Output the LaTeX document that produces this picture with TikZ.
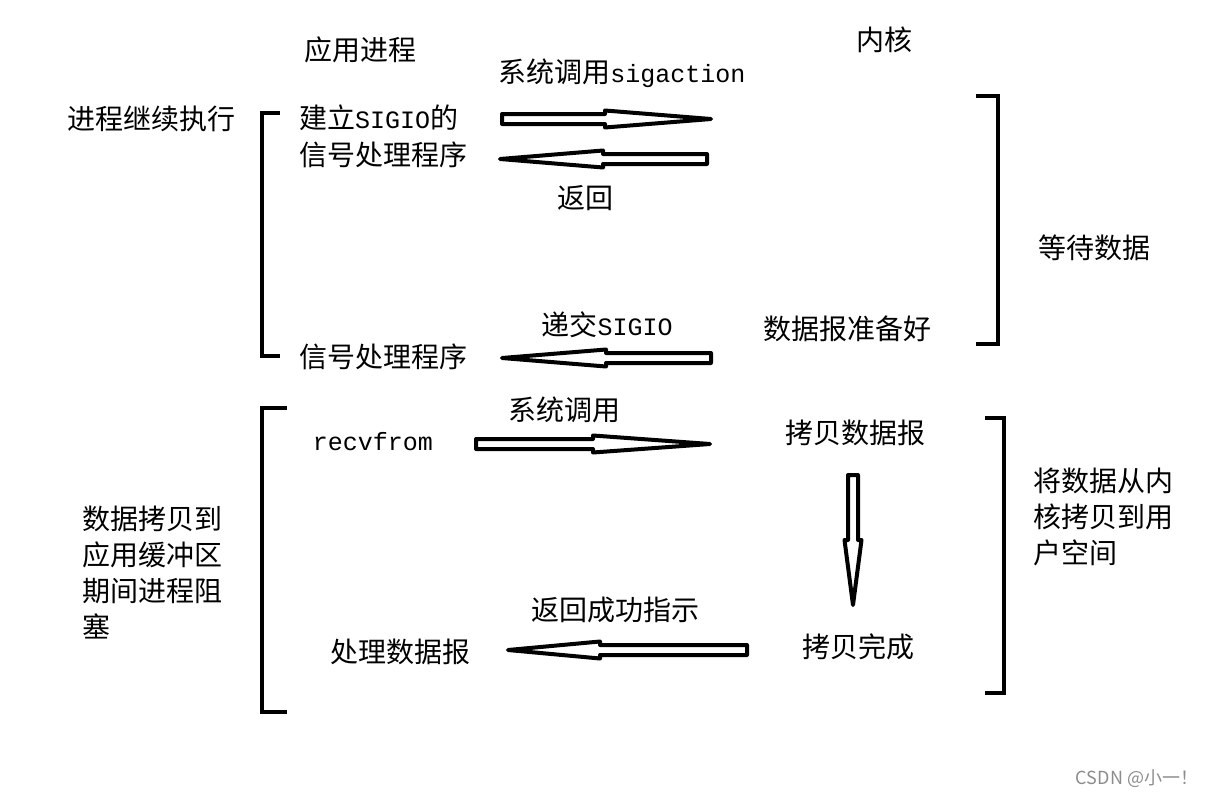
\documentclass[tikz,border=0pt]{standalone}
\usepackage{fontspec}
\setmainfont{Noto Sans CJK SC}
\setmonofont{Liberation Mono}
\usetikzlibrary{calc}

\newcommand{\lat}[1]{{\fontsize{25}{36}\selectfont\ttfamily #1}}
% hollow arrow: start, tip, head length
\newcommand{\hollowarrow}[3]{%
  \coordinate (hb) at ($(#2)!#3!(#1)$);
  \draw[harrow] ($(#1)!5pt!90:(#2)$) -- ($(hb)!5pt!90:(#2)$)
    -- ($(hb)!8.5pt!90:(#2)$) -- (#2) -- ($(hb)!8.5pt!-90:(#2)$)
    -- ($(hb)!5pt!-90:(#2)$) -- ($(#1)!5pt!-90:(#2)$) -- cycle;}

\begin{document}
\begin{tikzpicture}[x=1pt,y=-1pt]

% ---------- styles ----------
\tikzset{
  txt/.style={font=\fontsize{28}{36}\selectfont, inner sep=0pt},
  harrow/.style={line width=4pt, line join=round, fill=white},
  brk/.style={line width=4pt}
}

\useasboundingbox (0,0) rectangle (1213,798);

% ---------- headings ----------
\node[txt] (procApp) at (360,50) {应用进程};
\node[txt] (kernel) at (884,40) {内核};

% ---------- signal setup ----------
\node[txt, anchor=west] (contExec) at (67,119) {进程继续执行};
\node[txt, anchor=west] (setupSig) at (299,118) {建立\lat{SIGIO}的};
\node[txt, anchor=west] (sigHandlerA) at (299,155) {信号处理程序};
\node[txt] (sysSig) at (622,73) {系统调用\lat{sigaction}};
\node[txt] (retA) at (585,198) {返回};
\node[txt] (waitData) at (1094,248) {等待数据};
\node[txt] (deliver) at (607,325) {递交\lat{SIGIO}};
\node[txt] (dgReady) at (847,329) {数据报准备好};
\node[txt, anchor=west] (sigHandlerB) at (299,357) {信号处理程序};

\coordinate (a1s) at (502,119);
\coordinate (a1t) at (711,119);
\coordinate (a2s) at (707,159);
\coordinate (a2t) at (500,159);
\coordinate (a3s) at (711,358);
\coordinate (a3t) at (502,358);
\hollowarrow{a1s}{a1t}{106pt}
\hollowarrow{a2s}{a2t}{103pt}
\hollowarrow{a3s}{a3t}{104pt}

% brackets
\draw[brk] (280,113) -- (262,113) -- (262,356) -- (280,356);
\draw[brk] (976,96) -- (998,96) -- (998,344) -- (976,344);

% ---------- data copy ----------
\node[txt] (sysCall) at (564,410) {系统调用};
\node[txt] (recvfrom) at (373,442) {\lat{recvfrom}};
\node[txt] (copyDg) at (855,433) {拷贝数据报};
\node[txt, anchor=west, align=left] (kernCopy) at (1033,517)
  {将数据从内\\核拷贝到用\\户空间};
\node[txt, anchor=north west, align=left] (blockTxt) at (82,506)
  {数据拷贝到\\应用缓冲区\\期间进程阻\\塞};
\node[txt] (retOk) at (615,610) {返回成功指示};
\node[txt] (procDg) at (400,652) {处理数据报};
\node[txt] (copyDone) at (858,647) {拷贝完成};

\coordinate (a4s) at (476,444);
\coordinate (a4t) at (710,444);
\coordinate (a5s) at (853,475);
\coordinate (a5t) at (853,605);
\coordinate (a6s) at (747,650);
\coordinate (a6t) at (508,650);
\hollowarrow{a4s}{a4t}{117pt}
\hollowarrow{a5s}{a5t}{65pt}
\hollowarrow{a6s}{a6t}{92pt}

% brackets
\draw[brk] (287,408) -- (262,408) -- (262,712) -- (287,712);
\draw[brk] (985,418) -- (1004,418) -- (1004,693) -- (985,693);

% ---------- watermark ----------
\node[font=\fontsize{18}{20}\selectfont, text=black!45, inner sep=0pt] (mark)
  at (1137,779) {CSDN @小一！};

\end{tikzpicture}
\end{document}
